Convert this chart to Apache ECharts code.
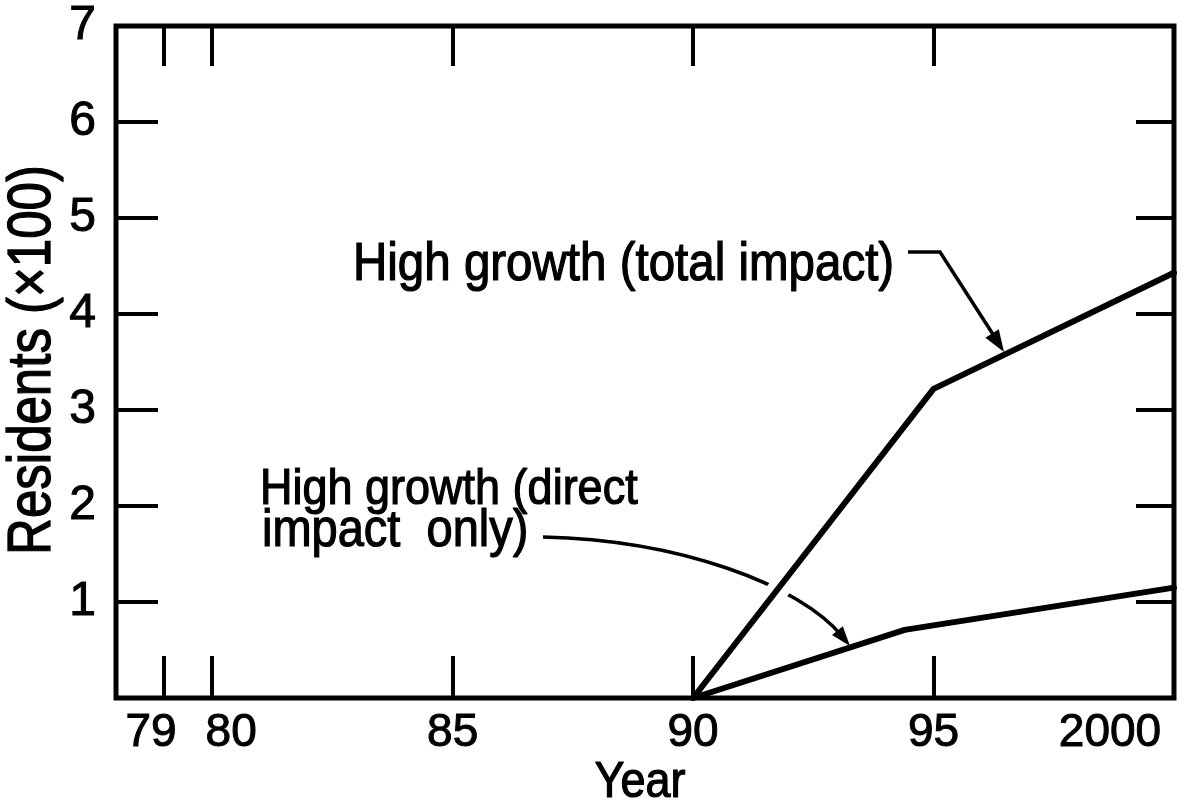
<!DOCTYPE html>
<html>
<head>
<meta charset="utf-8">
<style>
  html, body { margin: 0; padding: 0; background: #fff; }
  #chart { width: 1184px; height: 805px; }
</style>
<script src="https://cdn.jsdelivr.net/npm/echarts@6/dist/echarts.min.js"></script>
</head>
<body>
<div id="chart"></div>
<script>
// Residents added (hundreds) under the high-growth scenario
const yearsTotal = [90, 95, 100];
const totalImpact = [0, 3.22, 4.43];
const yearsDirect = [90, 94.4, 100];
const directImpact = [0, 0.71, 1.15];

// Axis ticks and their labels (100 stands for the year 2000)
const xTickValues = [79, 80, 85, 90, 95, 100];
const xTickLabels = ['79', '80', '85', '90', '95', '2000'];
const xTickMarks = [79, 80, 85, 90, 95];
const yTickValues = [1, 2, 3, 4, 5, 6, 7];
const yTickMarks = [1, 2, 3, 4, 5, 6];

const FONT = "'Liberation Sans', Arial, sans-serif";
const INK = '#000';

const chart = echarts.init(document.getElementById('chart'), null, { renderer: 'canvas' });

// horizontal nudges for crowded or edge labels
const labelPad = [[0, 26, 0, 0], [0, 0, 0, 38], [0, 0, 0, 0], [0, 0, 0, 0], [0, 0, 0, 0], [0, 128, 0, 0]];
const rich = {};
labelPad.forEach((p, i) => {
  rich['t' + i] = {
    fontFamily: FONT, fontSize: 46, color: INK, padding: p,
    textBorderColor: INK, textBorderWidth: 1
  };
});

const toPairs = (xs, ys) => xs.map((x, i) => [x, ys[i]]);

const tickStyle = { color: INK, width: 4 };

// shared style for the hand-lettered annotation text
const lettering = (text, size) => ({
  text: text, font: size + 'px ' + FONT, fill: INK,
  stroke: INK, lineWidth: 1.1,
  textAlign: 'left', textVerticalAlign: 'middle'
});

chart.setOption({
  animation: false,
  backgroundColor: '#fff',
  grid: {
    left: 116, right: 10, top: 26, bottom: 107,
    show: true, borderColor: INK, borderWidth: 5, backgroundColor: 'transparent'
  },
  xAxis: [
    {
      type: 'value', min: 78, max: 100, position: 'bottom',
      axisLine: { show: false, onZero: false },
      splitLine: { show: false },
      axisTick: { show: true, inside: true, length: 42, customValues: xTickMarks, lineStyle: tickStyle },
      axisLabel: {
        show: true, margin: 12, customValues: xTickValues,
        formatter: (v) => {
          const i = xTickValues.indexOf(v);
          return '{t' + i + '|' + xTickLabels[i] + '}';
        },
        rich: rich
      }
    },
    {
      type: 'value', min: 78, max: 100, position: 'top',
      axisLine: { show: false, onZero: false },
      splitLine: { show: false },
      axisTick: { show: true, inside: true, length: 40, customValues: xTickMarks, lineStyle: tickStyle },
      axisLabel: { show: false }
    }
  ],
  yAxis: [
    {
      type: 'value', min: 0, max: 7, interval: 1, position: 'left',
      axisLine: { show: false, onZero: false },
      splitLine: { show: false },
      axisTick: { show: true, inside: true, length: 42, customValues: yTickMarks, lineStyle: tickStyle },
      axisLabel: {
        show: true, margin: 20, customValues: yTickValues,
        fontFamily: FONT, fontSize: 48, color: INK,
        textBorderColor: INK, textBorderWidth: 1
      }
    },
    {
      type: 'value', min: 0, max: 7, interval: 1, position: 'right',
      axisLine: { show: false, onZero: false },
      splitLine: { show: false },
      axisTick: { show: true, inside: true, length: 38, customValues: yTickMarks, lineStyle: tickStyle },
      axisLabel: { show: false }
    }
  ],
  series: [
    {
      name: 'High growth (total impact)',
      type: 'line', xAxisIndex: 0, yAxisIndex: 0, z: 3,
      data: toPairs(yearsTotal, totalImpact),
      symbol: 'none',
      lineStyle: { color: INK, width: 6, cap: 'round', join: 'round' }
    },
    {
      name: 'High growth (direct impact only)',
      type: 'line', xAxisIndex: 0, yAxisIndex: 0, z: 3,
      data: toPairs(yearsDirect, directImpact),
      symbol: 'none',
      lineStyle: { color: INK, width: 6, cap: 'round', join: 'round' }
    }
  ],
  graphic: [
    // axis titles
    {
      type: 'text', x: 33, y: 360, rotation: Math.PI / 2, scaleY: 1.2, z: 5,
      style: Object.assign(lettering('Residents (×100)', 51), { textAlign: 'center' })
    },
    {
      type: 'text', x: 640, y: 783, scaleY: 1.09, z: 5,
      style: Object.assign(lettering('Year', 45), { textAlign: 'center' })
    },
    // callout: total impact
    {
      type: 'text', x: 353, y: 265, scaleY: 1.12, z: 5,
      style: lettering('High growth (total impact)', 47.5)
    },
    {
      type: 'polyline', z: 5,
      shape: { points: [[908, 252], [940, 252], [996, 339]] },
      style: { stroke: INK, lineWidth: 3.5, fill: null, lineJoin: 'miter' }
    },
    {
      type: 'polygon', z: 5,
      shape: { points: [[1004, 352], [985.4, 337.8], [998.8, 329.2]] },
      style: { fill: INK }
    },
    // callout: direct impact only
    {
      type: 'text', x: 260, y: 490, scaleY: 1.12, z: 5,
      style: lettering('High growth (direct', 45)
    },
    {
      type: 'text', x: 262, y: 532, scaleY: 1.1, z: 5,
      style: lettering('impact  only)', 47)
    },
    {
      type: 'bezierCurve', z: 0,
      shape: { x1: 543, y1: 537, cpx1: 680, cpy1: 540, cpx2: 800, cpy2: 585, x2: 842, y2: 636 },
      style: { stroke: INK, lineWidth: 3.5, fill: null }
    },
    // break in the leader where it passes under the total-impact line
    {
      type: 'line', z: 1,
      shape: { x1: 770.6, y1: 599.4, x2: 785.4, y2: 580.6 },
      style: { stroke: '#fff', lineWidth: 22 }
    },
    {
      type: 'polygon', z: 5,
      shape: { points: [[850, 646], [832, 635], [842.8, 626.2]] },
      style: { fill: INK }
    }
  ]
});
</script>
</body>
</html>
